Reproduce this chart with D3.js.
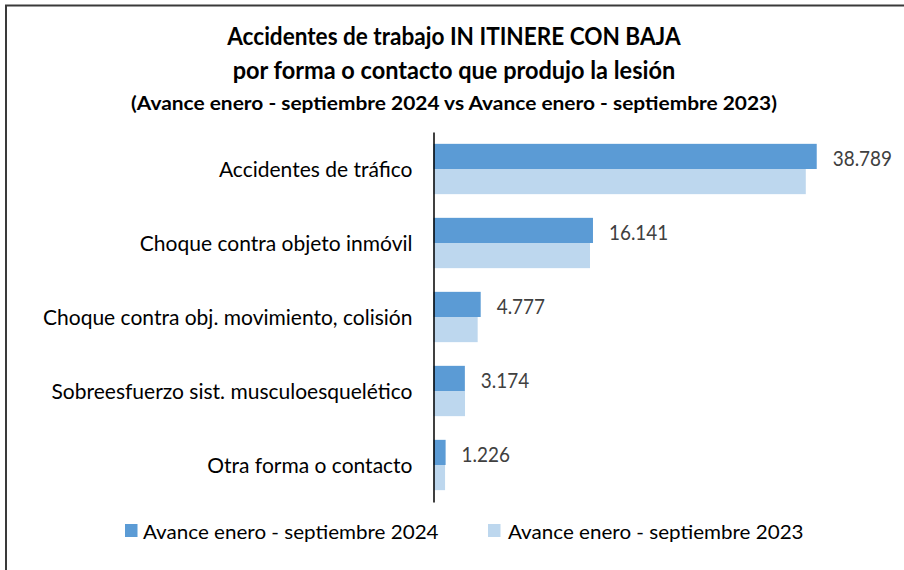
<!DOCTYPE html>
<html>
<head>
<meta charset="utf-8">
<script src="https://cdn.jsdelivr.net/npm/d3@7"></script>
<style>
  body { margin: 0; background: #fff; }
  svg text { font-family: Lato, "Open Sans", sans-serif; }
</style>
</head>
<body>
<svg id="chart"></svg>
<script>
var categories = [
  "Accidentes de tráfico",
  "Choque contra objeto inmóvil",
  "Choque contra obj. movimiento, colisión",
  "Sobreesfuerzo sist. musculoesquelético",
  "Otra forma o contacto"
];
var values2024 = [38789, 16141, 4777, 3174, 1226];
var values2023 = [37680, 15840, 4470, 3190, 1170];
var seriesNames = ["Avance enero - septiembre 2024", "Avance enero - septiembre 2023"];
var seriesColors = ["#5B9BD5", "#BDD7EE"];
var titleLines = [
  "Accidentes de trabajo IN ITINERE CON BAJA",
  "por forma o contacto que produjo la lesión",
  "(Avance enero - septiembre 2024 vs Avance enero - septiembre 2023)"
];

var width = 904, height = 570;
var svg = d3.select("#chart").attr("width", width).attr("height", height);

// stretch/squeeze text horizontally, the source font has other proportions than Lato
function squeeze(sel, k) {
  sel.each(function (d, i) {
    var kk = typeof k === "function" ? k(d, i) : k;
    var w = this.getComputedTextLength();
    d3.select(this).attr("textLength", w * kk).attr("lengthAdjust", "spacingAndGlyphs");
  });
}

// frame (only left and top edges are visible in the picture)
svg.append("rect")
  .attr("x", 6).attr("y", 5.5)
  .attr("width", 920).attr("height", 600)
  .attr("fill", "none").attr("stroke", "#3a3a3a").attr("stroke-width", 2);

// title
var titleSizes = [24, 24, 19];
var titleY = [45, 79, 110];
var titleK = [0.94, 0.98, 1.1];
svg.selectAll(".title")
  .data(titleLines)
  .enter().append("text")
  .attr("class", "title")
  .attr("x", 454)
  .attr("y", (d, i) => titleY[i])
  .attr("text-anchor", "middle")
  .attr("font-weight", "bold")
  .attr("font-size", (d, i) => titleSizes[i])
  .attr("fill", "#000")
  .text(d => d)
  .call(squeeze, (d, i) => titleK[i]);

// scales
var data = categories.map((c, i) => ({ cat: c, v: [values2024[i], values2023[i]] }));

var y = d3.scaleBand()
  .domain(categories)
  .range([132, 502])
  .paddingInner(0.32)
  .paddingOuter(0.16);

var ySub = d3.scaleBand()
  .domain([0, 1])
  .range([0, y.bandwidth()]);

var x = d3.scaleLinear()
  .domain([0, 40000])
  .range([433.5, 828.7]);

// bars
var groups = svg.selectAll(".grp")
  .data(data)
  .enter().append("g")
  .attr("class", "grp")
  .attr("transform", d => `translate(0,${y(d.cat)})`);

groups.selectAll("rect")
  .data(d => d.v)
  .enter().append("rect")
  .attr("x", x(0))
  .attr("y", (d, i) => ySub(i))
  .attr("width", d => x(d) - x(0))
  .attr("height", ySub.bandwidth())
  .attr("fill", (d, i) => seriesColors[i]);

// value labels for 2024 only
var fmt = d3.formatLocale({ decimal: ",", thousands: ".", grouping: [3] }).format(",");
groups.append("text")
  .attr("x", d => x(d.v[0]) + 16)
  .attr("y", ySub(0) + ySub.bandwidth() / 2 + 10)
  .attr("font-size", 21)
  .attr("fill", "#404040")
  .text(d => fmt(d.v[0]))
  .call(squeeze, 0.9);

// category axis
var yAxis = svg.append("g")
  .attr("transform", `translate(${x(0)},0)`)
  .call(d3.axisLeft(y).tickSize(0).tickPadding(21));
yAxis.select(".domain").attr("stroke", "#000").attr("stroke-width", 1.5);
yAxis.selectAll(".tick text")
  .attr("font-family", "Lato")
  .attr("font-size", 21)
  .attr("fill", "#000")
  .attr("dy", "0.36em");

// legend
var legendX = [125, 488];
var legend = svg.selectAll(".legend")
  .data(seriesNames)
  .enter().append("g")
  .attr("class", "legend")
  .attr("transform", (d, i) => `translate(${legendX[i]},524)`);
legend.append("rect")
  .attr("width", 12.5).attr("height", 13)
  .attr("fill", (d, i) => seriesColors[i]);
legend.append("text")
  .attr("x", (d, i) => i == 0 ? 18 : 20)
  .attr("y", 15)
  .attr("font-size", 20)
  .attr("fill", "#000")
  .text(d => d)
  .call(squeeze, 1.03);
</script>
</body>
</html>
